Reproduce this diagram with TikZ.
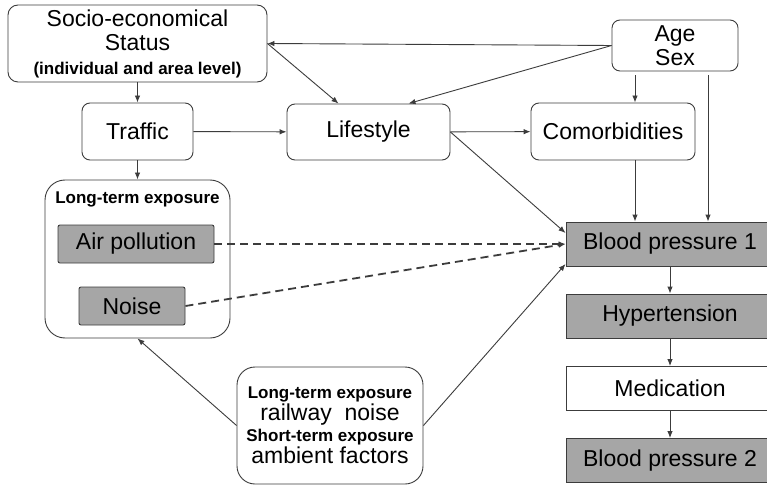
\documentclass[tikz,border=0pt]{standalone}
\usepackage{fontspec}
\setmainfont{Liberation Sans}
\usetikzlibrary{arrows.meta}
\definecolor{boxgray}{RGB}{166,166,166}
\definecolor{linegray}{RGB}{60,60,60}
\newcommand{\expfont}{\fontsize{17}{20}\bfseries\selectfont}
\tikzset{
  box/.style={draw=linegray, line width=0.9pt, fill=white, rounded corners=8pt,
    align=center, inner sep=0pt},
  measure/.style={draw=linegray, line width=0.9pt, fill=boxgray, rounded corners=2pt,
    inner sep=0pt, minimum height=38pt},
  outcome/.style={draw=linegray, line width=0.9pt, fill=boxgray, inner sep=0pt,
    minimum width=208pt, minimum height=44pt},
  link/.style={->, draw=linegray, line width=0.9pt}
}

\begin{document}
\begin{tikzpicture}[x=1pt, y=-1pt, >={Latex[length=7pt,width=5.5pt]},
    font=\fontsize{23}{24}\selectfont]
  \path[fill=white, use as bounding box] (0,0) rectangle (767,486);
  \node[box, rounded corners=10pt, minimum width=259pt, minimum height=77pt] (ses)
    at (137.5,43.5) {Socio-economical\\Status\\{\expfont (individual and area level)}};
  \node[box, minimum width=126pt, minimum height=51pt] (agesex) at (675,45.5) {Age\\Sex};
  \node[box, minimum width=111pt, minimum height=57pt] (traffic) at (137.5,131.5) {Traffic};
  \node[box, minimum width=163pt, minimum height=56pt] (lifestyle) at (368.5,132) {Lifestyle};
  \node[box, minimum width=164pt, minimum height=57pt] (comorb) at (613,131.5) {Comorbidities};
  \node[box, rounded corners=20pt, minimum width=185pt, minimum height=158pt] (lte)
    at (137.5,259) {};
  \node[font=\expfont] (ltetitle) at (137.5,199) {Long-term exposure};
  \node[measure, minimum width=156pt] (air) at (136,244) {Air pollution};
  \node[measure, minimum width=106pt] (noise) at (132,306) {Noise};
  \node[box, rounded corners=18pt, minimum width=186pt, minimum height=117pt,
    font=\fontsize{23}{21.5}\selectfont] (rail) at (330,425.5)
    {{\expfont Long-term exposure}\\railway~~noise\\{\expfont Short-term exposure}\\ambient factors};
  \node[outcome] (bp1) at (670,244) {Blood pressure 1};
  \node[outcome] (hyper) at (670,316) {Hypertension};
  \node[outcome, fill=white] (medic) at (670,388.5) {Medication};
  \node[outcome] (bp2) at (670,460.5) {Blood pressure 2};

  \draw[link] (agesex.west) -- (ses.east);
  \draw[link] (agesex.west) -- ([xshift=40pt]lifestyle.north);
  \draw[link] (ses.east) -- ([xshift=-30pt]lifestyle.north);
  \draw[link] (ses) -- (traffic);
  \draw[link] (traffic) -- (lte);
  \draw[link] (traffic) -- (lifestyle);
  \draw[link] (lifestyle) -- (comorb);
  \draw[link] (lifestyle.east) -- ([yshift=11pt]bp1.west);
  \draw[link, shorten <=4pt] ([xshift=-40pt]agesex.south)
    -- ([xshift=-40pt]agesex.south |- comorb.north);
  \draw[link, shorten <=4pt] ([xshift=33pt]agesex.south)
    -- ([xshift=33pt]agesex.south |- bp1.north);
  \draw[link] ([xshift=22pt]comorb.south) -- ([xshift=22pt]comorb.south |- bp1.north);
  \draw[link, line width=1.8pt, dash pattern=on 8pt off 5pt] (air.east) -- (bp1.west);
  \draw[link, line width=1.8pt, dash pattern=on 8pt off 5pt] (noise.east) -- (bp1.west);
  \draw[link] (rail.east) -- ([yshift=-20pt]bp1.west);
  \draw[link] (rail.west) -- (lte.south);
  \foreach \a/\b in {bp1/hyper, hyper/medic, medic/bp2}
    \draw[link] (\a) -- (\b);
\end{tikzpicture}
\end{document}
